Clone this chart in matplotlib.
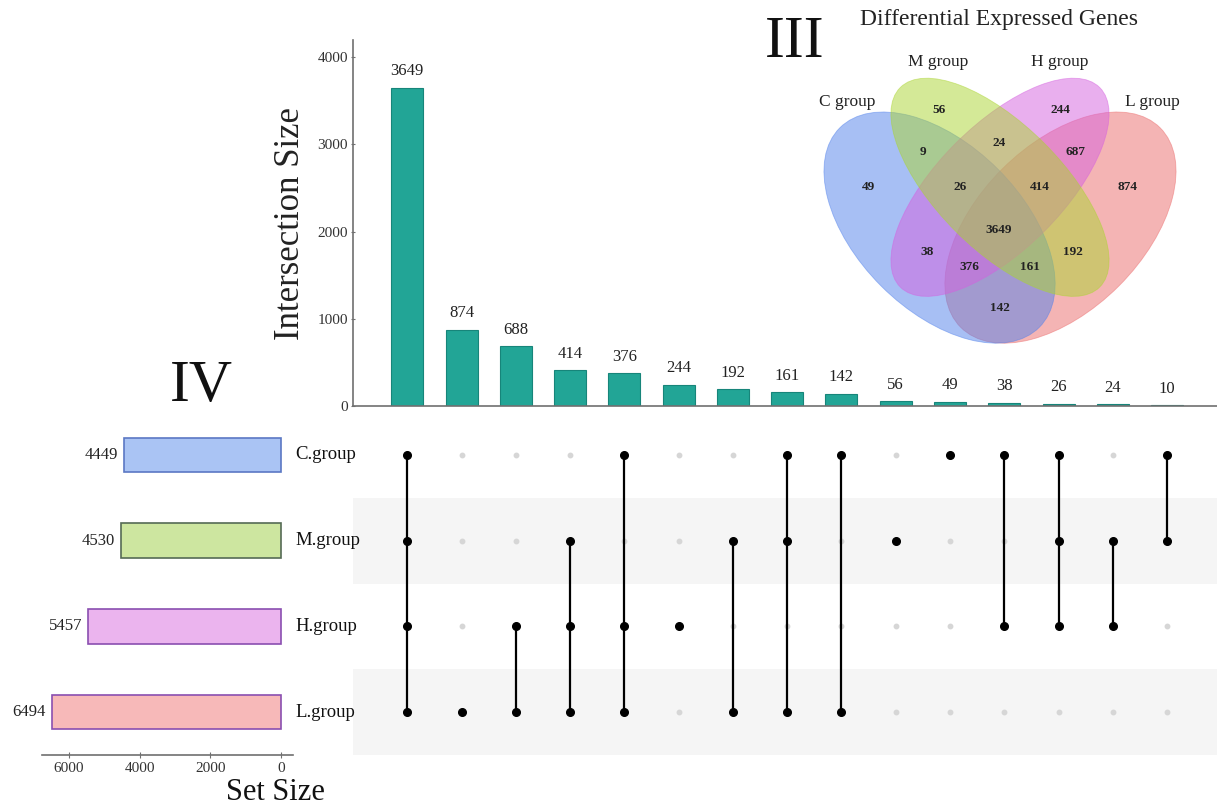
import numpy as np
import matplotlib.pyplot as plt
from matplotlib.patches import Ellipse

plt.rcParams['font.family'] = ['Liberation Serif', 'DejaVu Serif']

# intersection data (UpSet)
sets = ['C.group', 'M.group', 'H.group', 'L.group']
set_sizes = [4449, 4530, 5457, 6494]
inter_sizes = [3649, 874, 688, 414, 376, 244, 192, 161, 142, 56, 49, 38, 26, 24, 10]
inter_members = [
    ['C', 'M', 'H', 'L'], ['L'], ['H', 'L'], ['M', 'H', 'L'], ['C', 'H', 'L'],
    ['H'], ['M', 'L'], ['C', 'M', 'L'], ['C', 'L'], ['M'], ['C'],
    ['C', 'H'], ['C', 'M', 'H'], ['M', 'H'], ['C', 'M'],
]
set_keys = ['C', 'M', 'H', 'L']
set_fill = ['#aac4f4', '#cde6a0', '#ebb4ee', '#f7b9b9']
set_edge = ['#5b78c4', '#556b55', '#8a4fb0', '#8a4fb0']

# venn data
venn_title = 'Differential Expressed Genes'
venn_groups = ['C group', 'M group', 'H group', 'L group']
venn_counts = [49, 56, 244, 874, 9, 24, 687, 26, 414, 3649, 38, 376, 161, 192, 142]

W, H = 1217, 805
fig = plt.figure(figsize=(W / 100, H / 100), dpi=100)

def px_axes(x0, y0, x1, y1):
    # pixel box (top-left origin) -> figure fraction
    return [x0 / W, (H - y1) / H, (x1 - x0) / W, (y1 - y0) / H]

n = len(inter_sizes)
xs = np.arange(n)
bar_color = '#22a596'

# --- intersection size bars
ax_bar = fig.add_axes(px_axes(353, 40, 1217, 406))
ax_bar.bar(xs, inter_sizes, width=0.59, color=bar_color, edgecolor='#17857a', linewidth=0.8)
for x, v in zip(xs, inter_sizes):
    ax_bar.annotate(str(v), (x, v), xytext=(0, 6), textcoords='offset points',
                    ha='center', va='bottom', fontsize=12, color='#222222')
ax_bar.set_xlim(-1, 14.92)
ax_bar.set_ylim(0, 4195)
ax_bar.set_yticks([0, 1000, 2000, 3000, 4000])
ax_bar.set_xticks([])
for s in ['top', 'right']:
    ax_bar.spines[s].set_visible(False)
for s in ['left', 'bottom']:
    ax_bar.spines[s].set_color('#707070')
    ax_bar.spines[s].set_linewidth(1.2)
ax_bar.tick_params(axis='y', labelsize=11, colors='#707070', labelcolor='#333333',
                   length=3, direction='inout', pad=2)
ax_bar.set_ylabel('Intersection Size', fontsize=25, color='#222222', labelpad=8)

# --- matrix
ax_mat = fig.add_axes(px_axes(353, 412, 1217, 755))
ax_mat.set_xlim(-1, 14.92)
ax_mat.set_ylim(3.5, -0.5)
for r in range(len(sets)):
    if r % 2 == 1:
        ax_mat.axhspan(r - 0.5, r + 0.5, color='#f5f5f5', zorder=0, lw=0)
for c, mem in enumerate(inter_members):
    rows = [set_keys.index(k) for k in mem]
    for r in range(len(sets)):
        if r not in rows:
            ax_mat.plot(c, r, 'o', color='#d6d6d6', markersize=3.2, zorder=2)
    if len(rows) > 1:
        ax_mat.plot([c, c], [min(rows), max(rows)], color='black', lw=1.6, zorder=3)
    ax_mat.plot([c] * len(rows), rows, 'o', color='black', markersize=5.5, zorder=4)
ax_mat.axis('off')

# --- set size bars
ax_set = fig.add_axes(px_axes(42, 412, 293, 755))
ys = np.arange(len(sets))
ax_set.barh(ys, set_sizes, height=0.4, color=set_fill, edgecolor=set_edge, linewidth=1.2)
for y, v in zip(ys, set_sizes):
    ax_set.text(v + 160, y, str(v), ha='right', va='center', fontsize=12, color='#222222')
for y, name in zip(ys, sets):
    ax_set.text(-400, y, name, ha='left', va='center', fontsize=13.5, color='#111111')
ax_set.set_xlim(6765, -340)
ax_set.set_ylim(3.5, -0.5)
ax_set.set_yticks([])
ax_set.set_xticks([6000, 4000, 2000, 0])
for s in ['top', 'right', 'left']:
    ax_set.spines[s].set_visible(False)
ax_set.spines['bottom'].set_color('#707070')
ax_set.spines['bottom'].set_linewidth(1.2)
ax_set.tick_params(axis='x', labelsize=11, colors='#707070', labelcolor='#333333',
                   length=4, direction='inout', pad=3)
fig.text(275 / W, 1 - 792 / H, 'Set Size', ha='center', va='center', fontsize=22, color='#111111')

# --- venn inset
ax_v = fig.add_axes(px_axes(798.5, 14, 1201.5, 417))
ax_v.set_xlim(0, 1)
ax_v.set_ylim(0, 1)
ax_v.axis('off')
ell_spec = {  # x, y, a, b, angle
    'C': (0.35, 0.47, 0.35, 0.205, -45),
    'M': (0.50, 0.57, 0.35, 0.155, -45),
    'H': (0.50, 0.57, 0.35, 0.155, 45),
    'L': (0.65, 0.47, 0.35, 0.205, 45),
}
ell_colors = {'C': '#5181eb', 'M': '#abd531', 'H': '#d561df', 'L': '#eb6b6b'}
for k in ['L', 'C', 'H', 'M']:
    x, y, a, b, ang = ell_spec[k]
    col = ell_colors[k]
    ax_v.add_patch(Ellipse((x, y), 2 * a, 2 * b, angle=ang, facecolor=col,
                           alpha=0.5, edgecolor=col, lw=0.6))

def vpos(px, py):
    return 0.5 + (px - 1000) / 403, (417.4 - py) / 403

count_px = [(869, 187), (939, 110), (1060, 110), (1127, 187), (923, 152), (999, 143),
            (1076, 152), (960, 187), (1040, 187), (999, 230), (927, 252), (969, 267),
            (1030, 267), (1073, 252), (1000, 308)]
for v, (px, py) in zip(venn_counts, count_px):
    ax_v.text(*vpos(px, py), str(v), ha='center', va='center', fontsize=9.5,
              fontweight='bold', color='#222222')
group_px = [(847, 102), (938, 62), (1060, 62), (1152, 102)]
for g, (px, py) in zip(venn_groups, group_px):
    ax_v.text(*vpos(px, py), g, ha='center', va='center', fontsize=12.5, color='#222222')
fig.text(999 / W, 1 - 20 / H, venn_title, ha='center', va='center', fontsize=17, color='#222222')

fig.text(795 / W, 1 - 43 / H, 'III', ha='center', va='center', fontsize=43, color='#111111')
fig.text(201 / W, 1 - 387 / H, 'IV', ha='center', va='center', fontsize=43, color='#111111')

fig.savefig('out.png', dpi=100)
